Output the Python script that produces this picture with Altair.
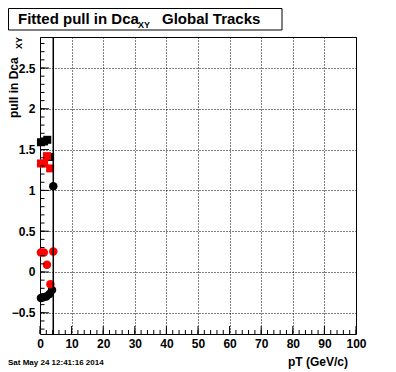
import altair as alt
import pandas as pd

# ---- data ----
x_ticks = [0, 10, 20, 30, 40, 50, 60, 70, 80, 90, 100]
x_minor = list(range(0, 101, 2))
y_ticks = [-0.5, 0, 0.5, 1, 1.5, 2, 2.5]
y_minor = [round(-0.7 + 0.1 * i, 1) for i in range(36)]

black_sq_x = [0.3, 1.3, 2.3, 3.2]
black_sq_y = [1.59, 1.60, 1.62, 1.41]
red_sq_x = [0.3, 1.3, 2.2, 3.2]
red_sq_y = [1.33, 1.33, 1.42, 1.27]
black_ci_x = [0.3, 1.0, 2.0, 3.0, 3.8, 4.2]
black_ci_y = [-0.32, -0.31, -0.30, -0.27, -0.22, 1.05]
red_ci_x = [0.3, 1.2, 2.2, 3.3, 4.2]
red_ci_y = [0.24, 0.24, 0.09, -0.15, 0.25]
vline_x = [4.2]

title_main = "Fitted pull in Dca"
title_sub = "XY"
title_rest = "Global Tracks"
ytitle = "pull in Dca"
xtitle = "pT (GeV/c)"
date_text = "Sat May 24 12:41:16 2014"

W, H = 316, 297
FONT = "Liberation Sans"

xs = alt.Scale(domain=[0, 100], nice=False, zero=False)
ys = alt.Scale(domain=[-0.76, 2.88], nice=False, zero=False)

xaxis = alt.Axis(values=x_ticks, grid=True, gridDash=[1, 2], gridColor="black",
                 gridOpacity=1, gridWidth=1, ticks=False, domain=False,
                 labelFont=FONT, labelFontWeight="bold", labelFontSize=12,
                 labelColor="black", labelPadding=4, labelFlush=False,
                 labelOverlap=False, labelAngle=0, title=None, format="d")
yaxis = alt.Axis(values=y_ticks, grid=True, gridDash=[1, 2], gridColor="black",
                 gridOpacity=1, gridWidth=1, ticks=False, domain=False,
                 labelFont=FONT, labelFontWeight="bold", labelFontSize=12,
                 labelColor="black", labelPadding=5, labelFlush=False,
                 labelOverlap=False, title=None, format="~g")


def pts(xv, yv, shape, color, size):
    df = pd.DataFrame({"x": xv, "y": yv})
    return alt.Chart(df).mark_point(filled=True, shape=shape, size=size,
                                    color=color, opacity=1).encode(
        x=alt.X("x:Q", scale=xs, axis=xaxis),
        y=alt.Y("y:Q", scale=ys, axis=yaxis))


def xtick_layer(vals, length):
    df = pd.DataFrame({"x": vals})
    return alt.Chart(df).mark_rule(color="black", strokeWidth=1).encode(
        x=alt.X("x:Q", scale=xs, axis=xaxis),
        y=alt.value(H), y2=alt.value(H - length))


def ytick_layer(vals, length):
    df = pd.DataFrame({"y": vals})
    return alt.Chart(df).mark_rule(color="black", strokeWidth=1).encode(
        y=alt.Y("y:Q", scale=ys, axis=yaxis),
        x=alt.value(0), x2=alt.value(length))


def text_layer(t, x, y, size, angle=0, align="left", weight="bold"):
    df = pd.DataFrame({"t": [t]})
    return alt.Chart(df).mark_text(font=FONT, fontWeight=weight, fontSize=size,
                                   angle=angle, align=align, baseline="alphabetic",
                                   color="black").encode(
        x=alt.value(x), y=alt.value(y), text=alt.Text("t:N"))


vline = alt.Chart(pd.DataFrame({"x": vline_x})).mark_rule(
    color="black", strokeWidth=1.5).encode(x=alt.X("x:Q", scale=xs, axis=xaxis))

title_box = alt.Chart(pd.DataFrame({"a": [0]})).mark_rect(
    fill="white", stroke="black", strokeWidth=1).encode(
    x=alt.value(-31.5), x2=alt.value(242), y=alt.value(-28.5), y2=alt.value(-7))

chart = alt.layer(
    pts(black_sq_x, black_sq_y, "square", "black", 64),
    pts(red_sq_x, red_sq_y, "square", "red", 64),
    pts(black_ci_x, black_ci_y, "circle", "black", 72),
    pts(red_ci_x, red_ci_y, "circle", "red", 72),
    vline,
    xtick_layer(x_minor, 4),
    xtick_layer(x_ticks, 8),
    ytick_layer(y_minor, 4.5),
    ytick_layer(y_ticks, 9),
    title_box,
    text_layer(title_main, -22, -13, 15),
    text_layer(title_sub, -22 + 120, -9, 9),
    text_layer(title_rest, 122, -13, 15),
    text_layer(ytitle, -22.5, 81, 12, angle=270),
    text_layer(title_sub, -18, 12, 9, angle=270),
    text_layer(xtitle, 308, 329, 12, align="right"),
    text_layer(date_text, -32, 328, 8),
).properties(
    width=W, height=H,
    autosize=alt.AutoSizeParams(type="none"),
    padding={"left": 32, "top": 29, "right": 32, "bottom": 38},
    background="white",
).configure_view(stroke="black", strokeWidth=1)

chart.save("out.html", embed_options={"renderer": "svg", "actions": False})
